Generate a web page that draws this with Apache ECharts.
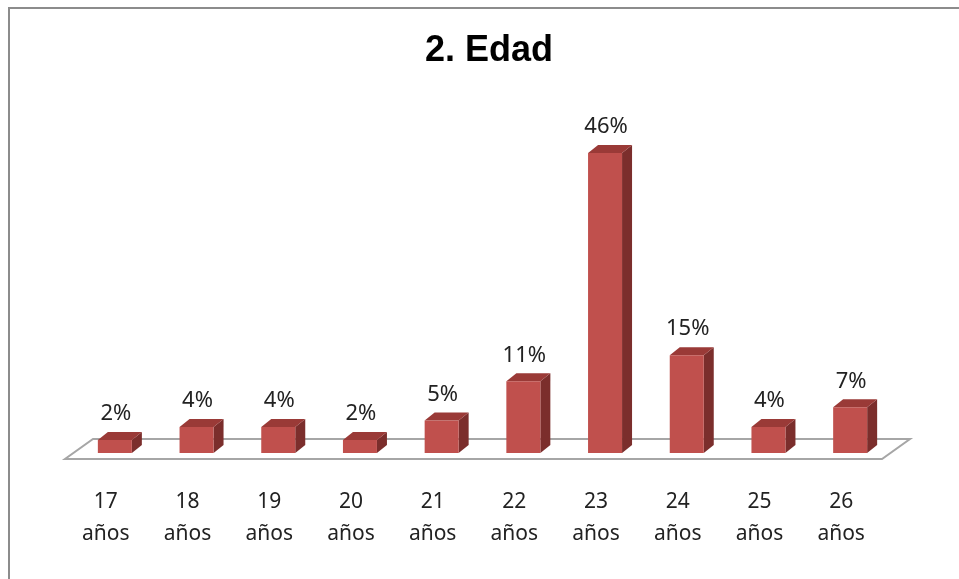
<!DOCTYPE html>
<html>
<head>
<meta charset="utf-8">
<script src="https://cdn.jsdelivr.net/npm/echarts@6/dist/echarts.min.js"></script>
<style>
  html, body { margin: 0; padding: 0; background: #fff; }
  #chart { width: 959px; height: 579px; }
  .frame { position: absolute; left: 8px; top: 7px; right: 0; bottom: 0; border-left: 2px solid #8c8c8c; border-top: 2px solid #8c8c8c; pointer-events: none; }
</style>
</head>
<body>
<div id="chart"></div>
<div class="frame"></div>
<script>
// edades y porcentajes
var categories = ['17\naños', '18\naños', '19\naños', '20\naños', '21\naños', '22\naños', '23\naños', '24\naños', '25\naños', '26\naños']
var values = [2, 4, 4, 2, 5, 11, 46, 15, 4, 7]

var DX = 10 // profundidad 3D
var DY = -8
var HALF = 17

var chart = echarts.init(document.getElementById('chart'))

function renderFloor(params, api) {
  var cs = params.coordSys
  var y0 = api.coord([0, 0])[1]
  var l = cs.x, r = cs.x + cs.width
  return {
    type: 'polygon',
    shape: {
      points: [[l - 9, y0 + 6], [r - 9, y0 + 6], [r + 19, y0 - 14], [l + 19, y0 - 14]]
    },
    style: { fill: '#fff', stroke: '#a6a6a6', lineWidth: 2 }
  }
}

function renderBar(params, api) {
  var base = api.coord([api.value(0), 0])
  var top = api.coord([api.value(0), api.value(1)])
  var x0 = base[0] - HALF, x1 = base[0] + HALF
  var y0 = base[1], yt = top[1]
  return {
    type: 'group',
    children: [
      {
        type: 'polygon',
        shape: { points: [[x1, y0], [x1 + DX, y0 + DY], [x1 + DX, yt + DY], [x1, yt]] },
        style: { fill: '#7b2e2c' }
      },
      {
        type: 'polygon',
        shape: { points: [[x0, yt], [x0 + DX, yt + DY], [x1 + DX, yt + DY], [x1, yt]] },
        style: { fill: '#9a3a37' }
      },
      {
        type: 'rect',
        shape: { x: x0, y: yt, width: x1 - x0, height: y0 - yt },
        style: { fill: '#c0504d' }
      },
      {
        type: 'text',
        x: base[0] + 1,
        y: yt - 26,
        style: {
          text: api.value(1) + '%',
          fill: '#222',
          font: '22px "Noto Sans"',
          align: 'center',
          verticalAlign: 'middle'
        }
      }
    ]
  }
}

chart.setOption({
  animation: false,
  title: {
    text: '2. Edad',
    left: 420,
    top: 28,
    textStyle: {
      fontFamily: 'Liberation Sans',
      fontWeight: 'bold',
      fontSize: 36,
      color: '#000'
    }
  },
  grid: {
    left: 74,
    right: 68,
    top: 127,
    bottom: 126
  },
  xAxis: {
    type: 'category',
    data: categories,
    axisLine: { show: false },
    axisTick: { show: false },
    axisLabel: {
      fontFamily: 'Noto Sans',
      fontSize: 21,
      lineHeight: 32,
      color: '#222',
      margin: 33,
      padding: [0, 18, 0, 0]
    }
  },
  yAxis: {
    type: 'value',
    min: 0,
    max: 50,
    show: false
  },
  series: [
    {
      type: 'custom',
      z: 1,
      renderItem: renderFloor,
      data: [0],
      silent: true
    },
    {
      type: 'custom',
      z: 2,
      renderItem: renderBar,
      encode: { x: 0, y: 1 },
      data: values.map(function (v, i) { return [i, v] })
    }
  ]
})
</script>
</body>
</html>
